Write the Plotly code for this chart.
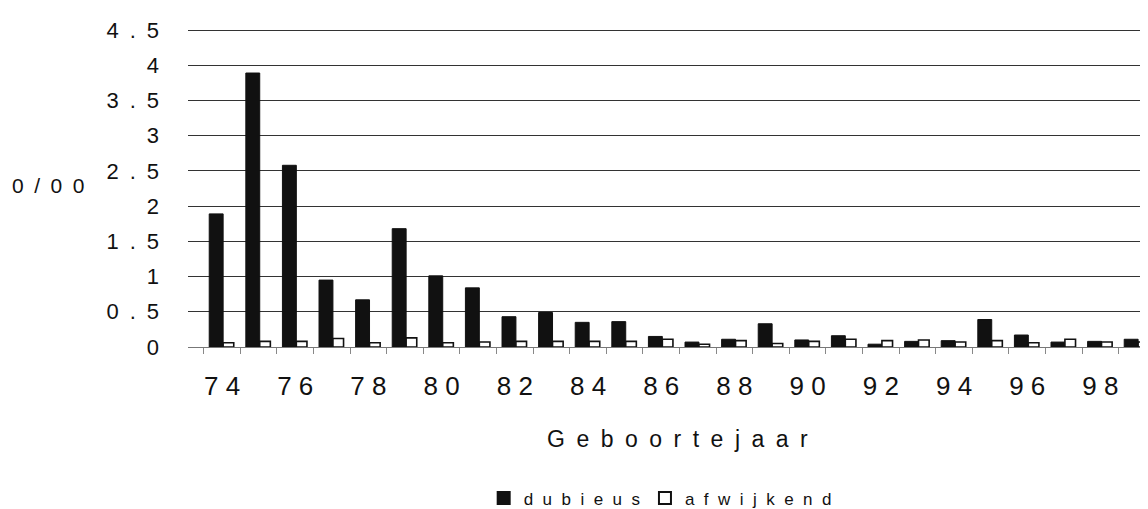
import plotly.graph_objects as go

years = list(range(74, 100))
dubieus = [1.89, 3.89, 2.58, 0.95, 0.67, 1.68, 1.01, 0.84, 0.43, 0.49,
           0.35, 0.36, 0.15, 0.07, 0.11, 0.33, 0.10, 0.16, 0.04, 0.08,
           0.09, 0.39, 0.17, 0.07, 0.08, 0.11]
afwijkend = [0.06, 0.08, 0.08, 0.12, 0.06, 0.13, 0.06, 0.07, 0.08, 0.08,
             0.08, 0.08, 0.11, 0.04, 0.09, 0.05, 0.08, 0.11, 0.09, 0.10,
             0.07, 0.09, 0.06, 0.11, 0.07, 0.07]
x_tick_years = list(range(74, 100, 2))
x_tick_text = [" ".join(str(y)) for y in x_tick_years]
y_tick_vals = [0, 0.5, 1, 1.5, 2, 2.5, 3, 3.5, 4, 4.5]
y_tick_text = ["0", "0\u2002.\u20025", "1", "1\u2002.\u20025", "2", "2\u2002.\u20025",
               "3", "3\u2002.\u20025", "4", "4\u2002.\u20025"]
legend_names = ["d\u2007u\u2007b\u2007i\u2007e\u2007u\u2007s",
                "a\u2007f\u2007w\u2007i\u2007j\u2007k\u2007e\u2007n\u2007d"]
x_title = "\u2002".join("Geboortejaar")
y_title = "0\u2002/\u20020\u20020"

FONT = "Liberation Sans, Arial, sans-serif"
INK = "#111111"
TXT = "#111111"

fig = go.Figure()
fig.add_trace(go.Bar(
    x=years, y=dubieus, name=legend_names[0],
    width=0.38, offset=-0.35,
    marker=dict(color=INK, line=dict(color=INK, width=1)),
))
fig.add_trace(go.Bar(
    x=years, y=afwijkend, name=legend_names[1],
    width=0.29, offset=0.03,
    marker=dict(color="white", line=dict(color=INK, width=1.6)),
))

fig.update_layout(
    width=1148, height=509, autosize=False,
    margin=dict(l=180, r=8, t=21, b=170, autoexpand=False),
    plot_bgcolor="white", paper_bgcolor="white",
    font=dict(family=FONT, color=TXT),
    barmode="overlay",
    showlegend=True,
    legend=dict(orientation="h", x=0.308, xanchor="left", y=-0.476, yanchor="middle",
                font=dict(size=17, family=FONT, color=TXT),
                bgcolor="rgba(0,0,0,0)", itemsizing="constant"),
    xaxis=dict(range=[73.07, 99.3], tickmode="array", tickvals=x_tick_years,
               ticktext=x_tick_text, ticks="", showgrid=False, zeroline=False,
               showline=True, linecolor="#777777", linewidth=1,
               tickfont=dict(size=26, family=FONT, color=TXT),
               ticklabelstandoff=16,
               minor=dict(tickmode="linear", tick0=73.5, dtick=1, ticks="outside",
                          ticklen=6, tickcolor="#888888", tickwidth=1, showgrid=False)),
    yaxis=dict(range=[0, 4.515], tickmode="array", tickvals=y_tick_vals,
               ticktext=y_tick_text, ticks="", showgrid=True, gridcolor="#333333",
               gridwidth=1, zeroline=False, showline=False,
               tickfont=dict(size=22, family=FONT, color=TXT),
               ticklabelstandoff=28),
    annotations=[
        dict(text=x_title, x=0.51, y=-0.29, xref="paper", yref="paper",
             showarrow=False, xanchor="center", yanchor="middle",
             font=dict(size=23, family=FONT, color=TXT)),
        dict(text=y_title, x=-0.146, y=0.508, xref="paper", yref="paper",
             showarrow=False, xanchor="center", yanchor="middle",
             font=dict(size=21, family=FONT, color=TXT)),
    ],
)

fig.write_html("out.html")
